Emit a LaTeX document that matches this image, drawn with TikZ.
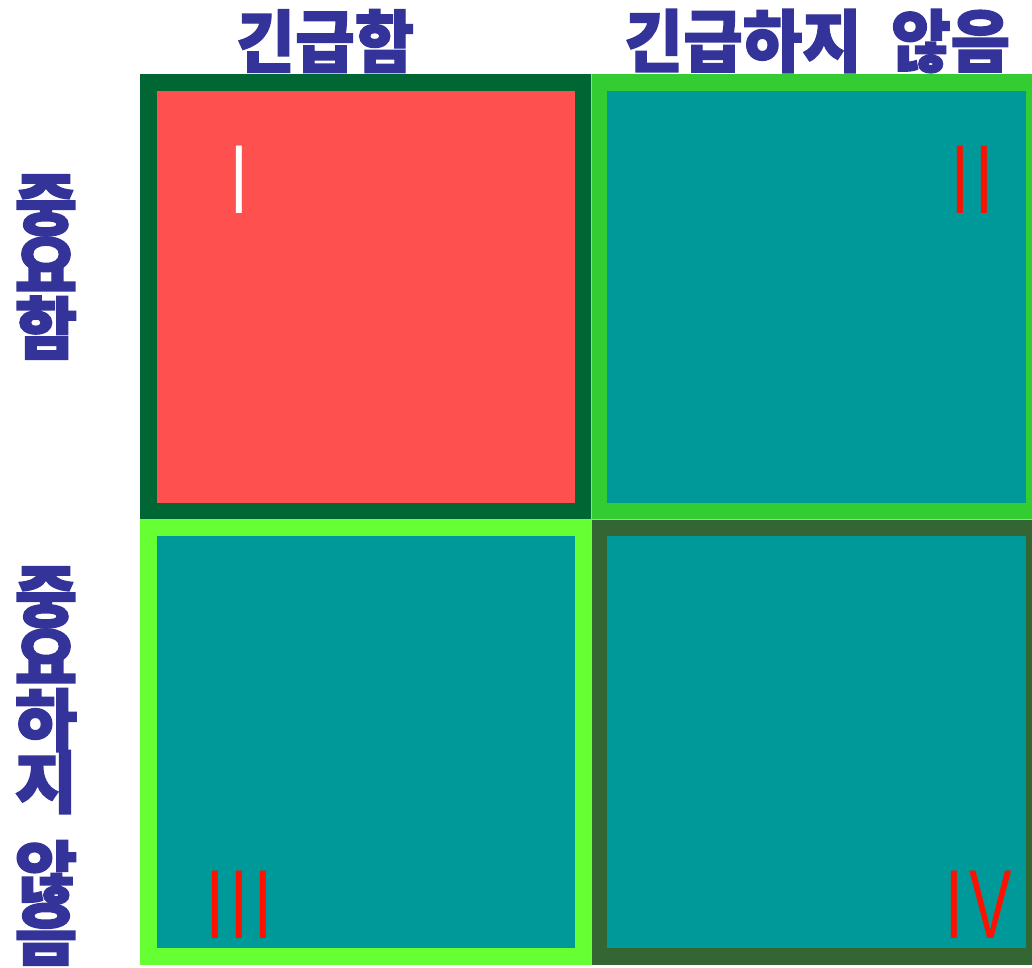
\documentclass[tikz,border=0pt]{standalone}
\usepackage{graphicx}
\usepackage{fontspec}
\newfontfamily\krfont{Noto Sans CJK KR}[WordSpace=2,FakeBold=2]
\newfontfamily\numfont{Liberation Sans}[LetterSpace=10]
\newcommand\stackfont{\krfont\bfseries\fontsize{68}{62}\selectfont\lineskiplimit=-60pt\relax}
\definecolor{labelblue}{HTML}{333399}
\definecolor{edgeone}{HTML}{006633}
\definecolor{edgetwo}{HTML}{33CC33}
\definecolor{edgethree}{HTML}{66FF33}
\definecolor{edgefour}{HTML}{336633}
\definecolor{seam}{HTML}{A8CCA8}
\definecolor{cellteal}{HTML}{009999}
\definecolor{cellred}{HTML}{FF5050}
\definecolor{numred}{HTML}{FF1100}
\begin{document}
\begin{tikzpicture}[x=1pt,y=-1pt,
    headlabel/.style={text=labelblue,inner sep=0pt,
      font=\krfont\bfseries\fontsize{68}{68}\selectfont},
    sidelabel/.style={text=labelblue,inner sep=0pt,align=center,font=\stackfont},
    numeral/.style={inner sep=0pt,anchor=base,
      font=\numfont\fontsize{98}{98}\selectfont}]
        \useasboundingbox (0,0) rectangle (1032,967);
        % quadrants
        \fill[seam] (140,74) rectangle (1032,964.5);
        \fill[edgeone] (140,74) rectangle (590.5,519);
        \fill[cellred] (157,91) rectangle (574.5,503);
        \fill[edgetwo] (591.5,74) rectangle (1032,519);
        \fill[cellteal] (607,91) rectangle (1025.5,503);
        \fill[edgethree] (140,520) rectangle (590.5,964.5);
        \fill[cellteal] (157,536) rectangle (574.5,948);
        \fill[edgefour] (591.5,520) rectangle (1032,964.5);
        \fill[cellteal] (607,536) rectangle (1025.5,948);
        % headings
        \node[headlabel] (urgent) at (325,41) {\scalebox{0.95}[1]{긴급함}};
        \node[headlabel] (noturgent) at (817,41) {\scalebox{0.95}[1]{긴급하지 않음}};
        \node[sidelabel] (important) at (46,267) {중\\요\\함};
        \node[sidelabel] (notimportant) at (46,766) {중\\요\\하\\지\\[28pt]않\\음};
        % numerals
        \node[numeral,text=white] (one) at (239,213) {\scalebox{0.65}[1]{I}};
        \node[numeral,text=numred] (two) at (972,213) {\scalebox{0.65}[1]{II}};
        \node[numeral,text=numred] (three) at (239,938) {\scalebox{0.65}[1]{III}};
        \node[numeral,text=numred] (four) at (979,938) {\scalebox{0.65}[1]{IV}};
      \end{tikzpicture}
\end{document}
